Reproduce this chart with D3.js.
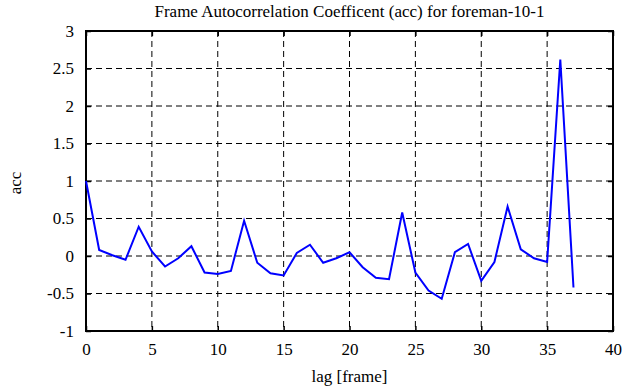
<!DOCTYPE html>
<html>
<head>
<meta charset="utf-8">
<script src="https://cdn.jsdelivr.net/npm/d3@7"></script>
<style>
  body { margin: 0; background: #fff; }
  text { font-family: "Liberation Serif", "DejaVu Serif", serif; fill: #000; }
</style>
</head>
<body>
<div id="graph"></div>
<script>
// lag values and autocorrelation coefficients
var lags = d3.range(0, 38);
var acc = [1.0, 0.08, 0.01, -0.05, 0.39, 0.06, -0.14, -0.03, 0.13, -0.22,
           -0.24, -0.20, 0.47, -0.09, -0.23, -0.26, 0.04, 0.15, -0.09, -0.03,
           0.05, -0.15, -0.29, -0.31, 0.58, -0.22, -0.46, -0.57, 0.05, 0.16,
           -0.33, -0.08, 0.66, 0.09, -0.03, -0.08, 2.62, -0.42];
var xTicks = [0, 5, 10, 15, 20, 25, 30, 35, 40];
var yTicks = [-1, -0.5, 0, 0.5, 1, 1.5, 2, 2.5, 3];

var svgWidth = 635, svgHeight = 387;
var margin = {left: 86, right: 22, top: 31, bottom: 56};
var w = svgWidth - margin.left - margin.right;
var h = svgHeight - margin.top - margin.bottom;
var serif = '"Liberation Serif", "DejaVu Serif", serif';

var svg = d3.select('#graph').append('svg')
  .attr('width', svgWidth).attr('height', svgHeight)
  .attr('font-family', serif);
var g = svg.append('g').attr('transform', 'translate(' + margin.left + ',' + margin.top + ')');

var x = d3.scaleLinear().domain([0, 40]).range([0, w]);
var y = d3.scaleLinear().domain([-1, 3]).range([h, 0]);

// dashed grid
g.selectAll('.vgrid').data(xTicks.slice(1, -1)).enter().append('line')
  .attr('x1', d => x(d)).attr('x2', d => x(d)).attr('y1', 0).attr('y2', h)
  .attr('stroke', '#000').attr('stroke-width', 1).attr('stroke-dasharray', '6,4');
g.selectAll('.hgrid').data(yTicks.slice(1, -1)).enter().append('line')
  .attr('y1', d => y(d)).attr('y2', d => y(d)).attr('x1', 0).attr('x2', w)
  .attr('stroke', '#000').attr('stroke-width', 1).attr('stroke-dasharray', '6,4');

// axes with inward ticks on all four sides
function styleAxis(sel) {
  sel.attr('font-family', serif).attr('font-size', 17);
  sel.select('.domain').remove();
  sel.selectAll('.tick line').attr('stroke', '#000').attr('stroke-width', 1.5);
}
var plain = d => String(d);
g.append('g').attr('transform', 'translate(0,' + h + ')')
  .call(d3.axisBottom(x).tickValues(xTicks).tickSizeInner(-5).tickSizeOuter(0).tickPadding(12).tickFormat(plain))
  .call(styleAxis);
g.append('g')
  .call(d3.axisTop(x).tickValues(xTicks).tickSizeInner(-5).tickSizeOuter(0).tickFormat(''))
  .call(styleAxis);
g.append('g')
  .call(d3.axisLeft(y).tickValues(yTicks).tickSizeInner(-5).tickSizeOuter(0).tickPadding(12).tickFormat(plain))
  .call(styleAxis);
g.append('g').attr('transform', 'translate(' + w + ',0)')
  .call(d3.axisRight(y).tickValues(yTicks).tickSizeInner(-5).tickSizeOuter(0).tickFormat(''))
  .call(styleAxis);

// frame
g.append('rect').attr('width', w).attr('height', h)
  .attr('fill', 'none').attr('stroke', '#000').attr('stroke-width', 2);

// data line
var line = d3.line().x((d, i) => x(lags[i])).y(d => y(d));
g.append('path').datum(acc)
  .attr('d', line)
  .attr('fill', 'none').attr('stroke', '#0000ff').attr('stroke-width', 2);

// labels
svg.append('text').attr('x', margin.left + w / 2).attr('y', 17)
  .attr('text-anchor', 'middle').attr('font-size', 17)
  .text('Frame Autocorrelation Coefficent (acc) for foreman-10-1');
svg.append('text').attr('x', margin.left + w / 2).attr('y', 382)
  .attr('text-anchor', 'middle').attr('font-size', 17)
  .text('lag [frame]');
svg.append('text').attr('transform', 'translate(21,' + (margin.top + h / 2 + 2) + ') rotate(-90)')
  .attr('text-anchor', 'middle').attr('font-size', 17)
  .text('acc');
</script>
</body>
</html>
